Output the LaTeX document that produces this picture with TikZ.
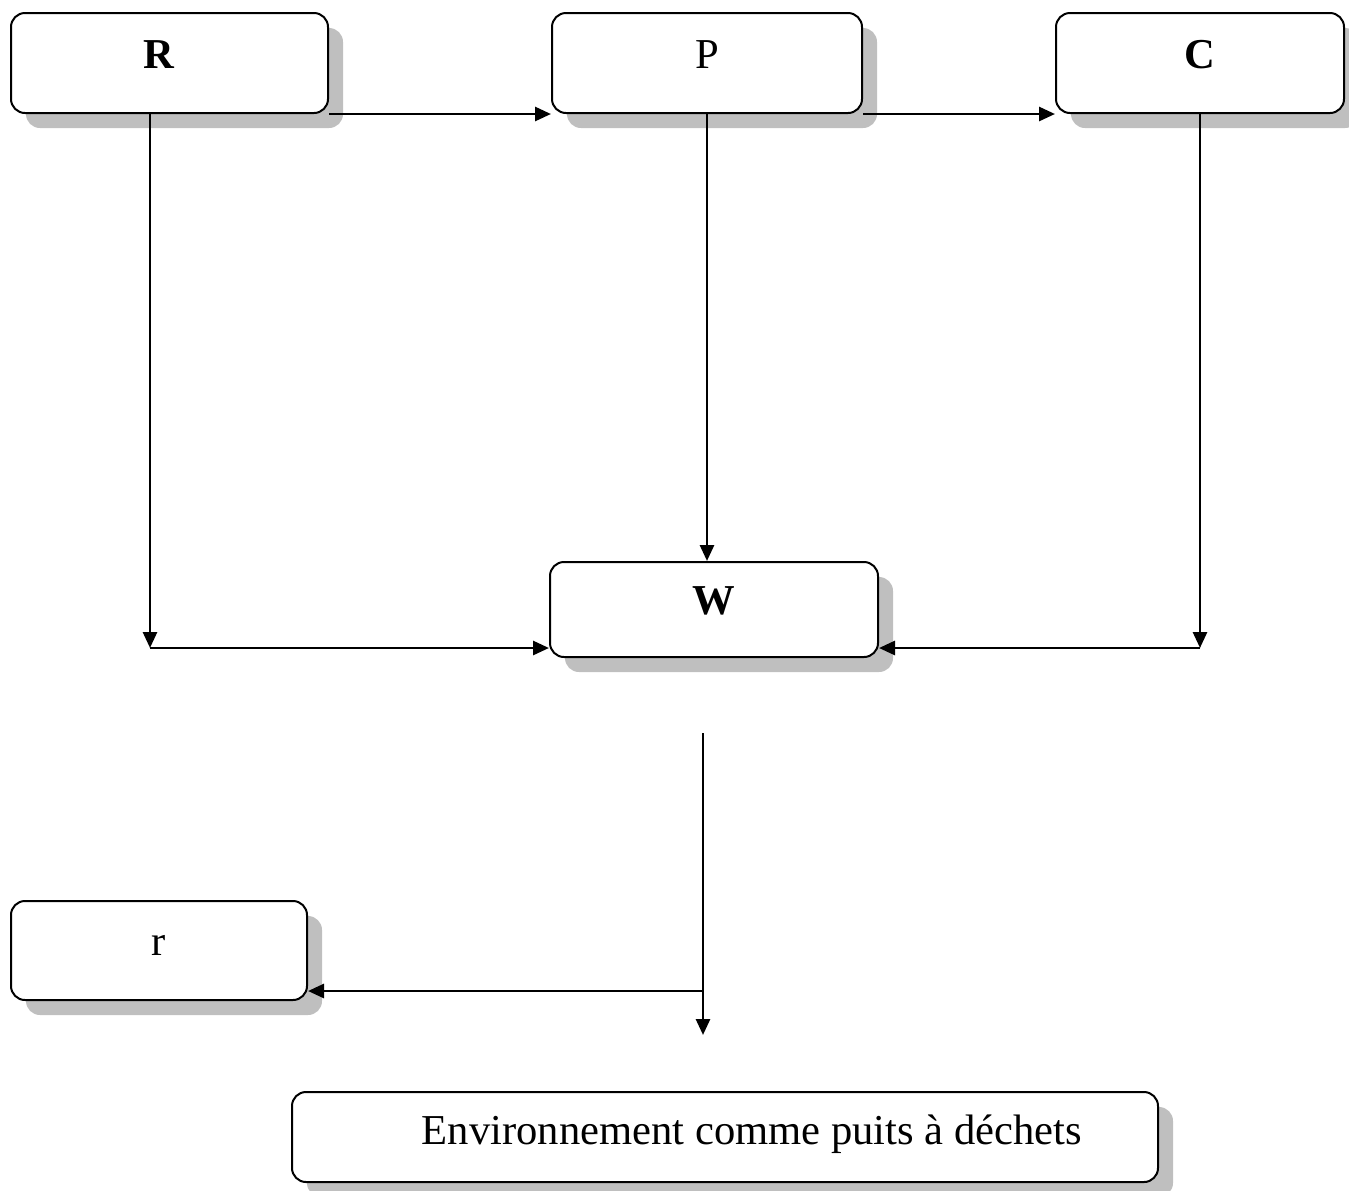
\documentclass[tikz,border=0pt]{standalone}
\usepackage{fontspec}
\setmainfont{Liberation Serif}
\usetikzlibrary{positioning, arrows.meta, shadows}

\begin{document}
\begin{tikzpicture}[
                x=0.5pt, y=-0.5pt,
                box/.style={rectangle, draw=black, fill=white, line width=1pt,
                    rounded corners=7pt, inner sep=0pt,
                    text height=15pt, text depth=10pt,
                    minimum height=50pt,
                    font=\fontsize{21.3}{25}\selectfont,
                    drop shadow={shadow xshift=7.5pt, shadow yshift=-7.5pt,
                        fill=black!25, opacity=1}},
                line/.style={-{Triangle[length=8pt, width=7pt]}, line width=1.4pt}
                ]
                \useasboundingbox (0,0) rectangle (1349,1190);
                \node[box, minimum width=158.5pt] at (169.5,63) (R) {\textbf{R}\hspace*{10pt}};
                \node[box, minimum width=155pt, right=111pt of R] (P) {P};
                \node[box, minimum width=144pt, right=96pt of P] (C) {\textbf{C}};
                \node[box, minimum width=164pt, minimum height=47.5pt] at (714,609.5) (W) {\textbf{W}};
                \node[box, minimum width=148pt, minimum height=49.5pt] at (159,950.5) (r) {r};
                \node[box, minimum width=433pt, minimum height=45pt, text depth=8pt] at (725,1137) (env)
                    {\hspace*{27pt}Environnement comme puits à déchets};
                % junctions
                \coordinate (rw) at (150,648);
                \coordinate (cw) at (C.south |- rw);
                \coordinate (wtop) at (703,733);
                \coordinate (wbot) at (703,1035);
                \coordinate (wr) at (703,991);
                \draw[line] (R.south east) -- (P.south west);
                \draw[line] (P.south east) -- (C.south west);
                \draw[line] (R.south -| rw) -- (rw);
                \draw[line] (rw) -- (rw -| W.west);
                \draw[line] (P.south) -- (P.south |- W.north);
                \draw[line] (C.south) -- (cw);
                \draw[line] (cw) -- (cw -| W.east);
                \draw[line] (wtop) -- (wbot);
                \draw[line] (wr) -- (wr -| r.east);
            \end{tikzpicture}
\end{document}
